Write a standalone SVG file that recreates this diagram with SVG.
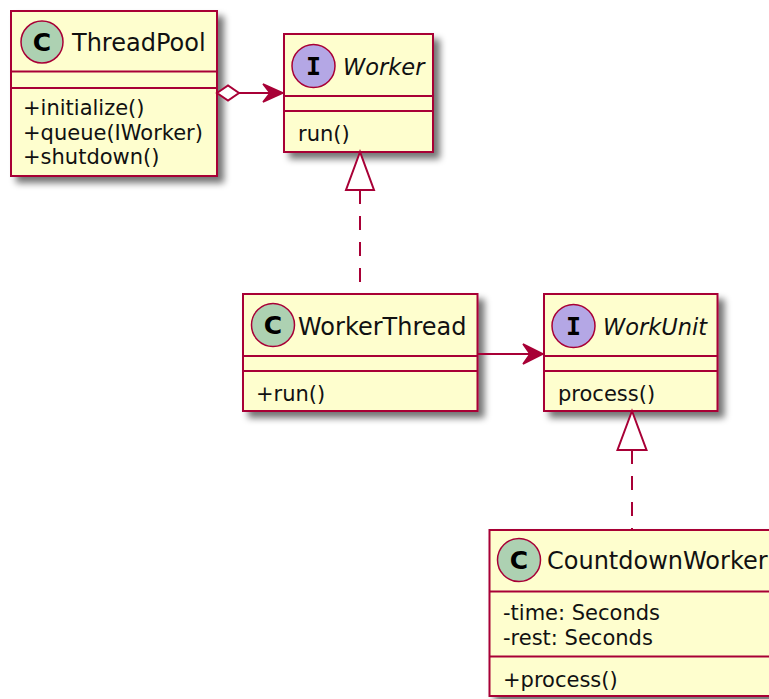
<svg xmlns="http://www.w3.org/2000/svg" width="769" height="699" viewBox="0 0 769 699">
  <style>
    .box { fill: #FEFECE; stroke: #A80036; stroke-width: 2; }
    .sep { stroke: #A80036; stroke-width: 2; }
    .spot { stroke: #A80036; stroke-width: 1.5; }
    .cls { fill: #ADD1B2; }
    .ifc { fill: #B4A7E5; }
    .glyph { font-family: "DejaVu Sans", sans-serif; font-weight: bold; font-size: 25px; fill: #000; text-anchor: middle; }
    .mono { font-family: "DejaVu Sans Mono", monospace; }
    .title { font-family: "DejaVu Sans", sans-serif; font-size: 24px; fill: #111; }
    .abstract { font-style: italic; font-size: 22.5px; }
    .member { font-family: "DejaVu Sans", sans-serif; font-size: 21px; fill: #111; }
    .line { stroke: #A80036; stroke-width: 2; fill: none; }
    .dash { stroke-dasharray: 14 12; }
    .head { fill: #A80036; stroke: #A80036; stroke-width: 1.5; }
    .hollow { fill: #FFFFFF; stroke: #A80036; stroke-width: 2; }
  </style>
  <defs>
    <filter id="shadow" x="-10%" y="-10%" width="130%" height="130%">
      <feGaussianBlur in="SourceAlpha" stdDeviation="3.5"/>
      <feOffset dx="6" dy="6" result="blur"/>
      <feComponentTransfer>
        <feFuncA type="linear" slope="0.55"/>
      </feComponentTransfer>
      <feMerge>
        <feMergeNode/>
        <feMergeNode in="SourceGraphic"/>
      </feMerge>
    </filter>
  </defs>
  <rect width="769" height="699" fill="#FFFFFF"/>

  <!-- ThreadPool class -->
  <g id="ThreadPool">
    <rect class="box" x="11" y="11" width="206" height="165" filter="url(#shadow)"/>
    <circle class="spot cls" cx="42" cy="42" r="21"/>
    <text class="glyph" x="42" y="51">C</text>
    <text class="title" x="72" y="51">ThreadPool</text>
    <line class="sep" x1="11" y1="71.5" x2="217" y2="71.5"/>
    <line class="sep" x1="11" y1="88" x2="217" y2="88"/>
    <text class="member" x="23" y="115">+initialize()</text>
    <text class="member" x="23" y="139.5">+queue(IWorker)</text>
    <text class="member" x="23" y="164">+shutdown()</text>
  </g>

  <!-- Worker interface -->
  <g id="Worker">
    <rect class="box" x="284" y="34" width="149" height="118" filter="url(#shadow)"/>
    <circle class="spot ifc" cx="313.5" cy="66" r="21.5"/>
    <text class="glyph mono" x="313.5" y="75">I</text>
    <text class="title abstract" x="343" y="75">Worker</text>
    <line class="sep" x1="284" y1="96" x2="433" y2="96"/>
    <line class="sep" x1="284" y1="111" x2="433" y2="111"/>
    <text class="member" x="298" y="141">run()</text>
  </g>

  <!-- WorkerThread class -->
  <g id="WorkerThread">
    <rect class="box" x="243" y="294" width="234.5" height="117" filter="url(#shadow)"/>
    <circle class="spot cls" cx="273" cy="325" r="21.5"/>
    <text class="glyph" x="273" y="334">C</text>
    <text class="title" x="298" y="335">WorkerThread</text>
    <line class="sep" x1="243" y1="356" x2="477.5" y2="356"/>
    <line class="sep" x1="243" y1="371" x2="477.5" y2="371"/>
    <text class="member" x="256" y="401">+run()</text>
  </g>

  <!-- WorkUnit interface -->
  <g id="WorkUnit">
    <rect class="box" x="544" y="294" width="173.5" height="117" filter="url(#shadow)"/>
    <circle class="spot ifc" cx="573.5" cy="326" r="21.5"/>
    <text class="glyph mono" x="573.5" y="335">I</text>
    <text class="title abstract" x="603" y="335">WorkUnit</text>
    <line class="sep" x1="544" y1="356" x2="717.5" y2="356"/>
    <line class="sep" x1="544" y1="371" x2="717.5" y2="371"/>
    <text class="member" x="558" y="401">process()</text>
  </g>

  <!-- CountdownWorker class (extends past the right edge) -->
  <g id="CountdownWorker">
    <rect class="box" x="489.5" y="530" width="300" height="166" filter="url(#shadow)"/>
    <circle class="spot cls" cx="519" cy="560" r="21.5"/>
    <text class="glyph" x="519" y="569">C</text>
    <text class="title" x="547" y="568.5">CountdownWorker</text>
    <line class="sep" x1="489.5" y1="591.5" x2="789.5" y2="591.5"/>
    <line class="sep" x1="489.5" y1="656.5" x2="789.5" y2="656.5"/>
    <text class="member" x="503" y="620">-time: Seconds</text>
    <text class="member" x="503" y="644.5">-rest: Seconds</text>
    <text class="member" x="503" y="687">+process()</text>
  </g>

  <!-- Relations -->
  <g id="connectors">
    <!-- ThreadPool o-> Worker -->
    <line class="line" x1="239" y1="93" x2="281" y2="93"/>
    <polygon class="hollow" points="217,93 228,85.5 239,93 228,100.5"/>
    <polygon class="head" points="283,93 263,84 270,93 263,102"/>

    <!-- WorkerThread ..|> Worker -->
    <line class="line dash" x1="360" y1="190" x2="360" y2="293"/>
    <polygon class="hollow" points="360,152 346,190 374,190"/>

    <!-- WorkerThread -> WorkUnit -->
    <line class="line" x1="477.5" y1="354" x2="541" y2="354"/>
    <polygon class="head" points="543,354 523,344 530,354 523,364"/>

    <!-- CountdownWorker ..|> WorkUnit -->
    <line class="line dash" x1="632" y1="450" x2="632" y2="529"/>
    <polygon class="hollow" points="632,411 617.5,450 646.5,450"/>
  </g>
</svg>
